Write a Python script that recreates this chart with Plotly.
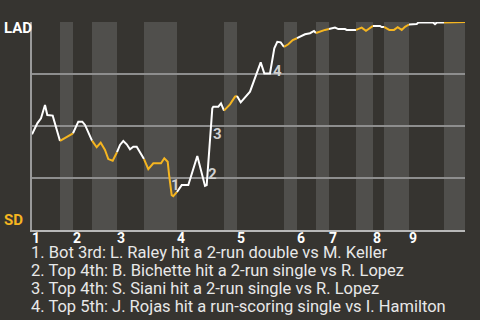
import plotly.graph_objects as go

# Half-inning start positions along the game-progress axis (top 1st ... bottom 9th)
half_starts = [0, 28, 41, 60, 85, 112, 145, 192, 205, 252, 265, 284, 297, 324, 341, 352, 377, 412]
game_end = 433
innings = ["1", "2", "3", "4", "5", "6", "7", "8", "9"]

# Win probability for LAD (%) along game progress
progress = [0, 5.3, 9, 13, 15.3, 20.7, 28, 39.7, 41, 43.7, 46.3, 50.3, 53, 60, 64.7, 68.7, 73,
            76.3, 80.7, 85, 88, 91.3, 94.7, 98, 101.3, 104.7, 109.7, 112, 116.3, 121.3, 129,
            132.3, 135.7, 137.3, 139.7, 141.3, 145, 149.7, 156.3, 165.3, 173, 174.7, 180.3,
            181.3, 186.3, 189, 192, 198, 203, 205, 208.7, 218, 224, 228.7, 232.3, 238, 242.3,
            245.3, 248.7, 252, 256.3, 260.7, 265, 273, 278, 282, 284, 289.7, 293, 297, 299.7,
            303, 306.3, 313, 314.7, 324, 329.7, 334, 338, 341, 348, 349.7, 352, 357.3, 362,
            365.7, 369.7, 373, 377, 384.7, 386.3, 401.3, 403, 404.7, 412, 428, 429.7, 433]
lad_wp = [46.0, 51.3, 53.7, 60.1, 55.3, 55.0, 42.8, 46.2, 46.5, 49.7, 52.1, 52.1, 50.5, 43.0,
          39.8, 42.0, 38.5, 34.1, 33.3, 37.4, 40.9, 42.8, 41.2, 38.8, 40.0, 40.0, 36.1, 34.1,
          29.3, 32.1, 32.1, 34.5, 32.8, 25.6, 16.8, 16.3, 18.3, 21.6, 21.6, 35.6, 21.2, 21.6,
          58.5, 59.3, 59.3, 60.9, 57.4, 60.4, 64.1, 64.4, 61.4, 66.5, 74.5, 80.6, 75.3, 75.3,
          87.4, 90.5, 90.2, 88.0, 89.3, 91.3, 92.2, 94.1, 94.6, 95.7, 94.7, 95.8, 96.2, 96.6,
          97.0, 97.3, 96.6, 96.6, 96.2, 96.2, 97.3, 95.8, 97.3, 98.1, 98.1, 97.6, 97.6, 96.2,
          96.2, 97.5, 96.2, 97.7, 98.8, 99.0, 99.7, 99.7, 99.0, 99.7, 99.7, 99.9, 100, 100]

# Key events
event_labels = ["1", "2", "3", "4"]
event_texts = [
    "1. Bot 3rd: L. Raley hit a 2-run double vs M. Keller",
    "2. Top 4th: B. Bichette hit a 2-run single vs R. Lopez",
    "3. Top 4th: S. Siani hit a 2-run single vs R. Lopez",
    "4. Top 5th: J. Rojas hit a run-scoring single vs I. Hamilton",
]
event_x = [143.7, 180.3, 185.3, 245.3]
event_y = [21.6, 26.9, 46.0, 76.6]

BG = "#363430"
BAND = "#504f4c"
LAD_COL = "#ffffff"
SD_COL = "#f5b520"
FONT = "Roboto"

fig = go.Figure()

bounds = half_starts + [game_end]
shapes = []
for i in range(len(half_starts)):
    if i % 2 == 1:
        shapes.append(dict(type="rect", xref="x", yref="paper", x0=bounds[i], x1=bounds[i + 1],
                           y0=0, y1=1, fillcolor=BAND, line=dict(width=0), layer="below"))

for i in range(len(half_starts)):
    s, e = bounds[i], bounds[i + 1]
    xs = [x for x in progress if s <= x <= e]
    ys = [y for x, y in zip(progress, lad_wp) if s <= x <= e]
    fig.add_trace(go.Scatter(x=xs, y=ys, mode="lines",
                             line=dict(color=LAD_COL if i % 2 == 0 else SD_COL, width=2),
                             hoverinfo="skip", showlegend=False))

annotations = []
for lab, ex, ey in zip(event_labels, event_x, event_y):
    annotations.append(dict(x=ex, y=ey, xref="x", yref="y", text="<b>" + lab + "</b>",
                            showarrow=False, font=dict(family=FONT, size=15, color="#d0d0d0")))

for j, lab in enumerate(innings):
    annotations.append(dict(x=half_starts[2 * j] + 4, y=0, xref="x", yref="paper", yanchor="top",
                            yshift=2, text="<b>" + lab + "</b>", showarrow=False,
                            font=dict(family=FONT, size=14, color="#ffffff")))

annotations.append(dict(x=0, y=97, xref="paper", yref="y", xanchor="left", yanchor="middle",
                        xshift=-30, text="<b>LAD</b>", showarrow=False,
                        font=dict(family=FONT, size=15, color="#ffffff")))
annotations.append(dict(x=0, y=5, xref="paper", yref="y", xanchor="left", yanchor="middle",
                        xshift=-30, text="<b>SD</b>", showarrow=False,
                        font=dict(family=FONT, size=15, color=SD_COL)))

for k, t in enumerate(event_texts):
    annotations.append(dict(x=0, y=0, xref="x", yref="paper", xanchor="left", yanchor="middle",
                            yshift=-22 - 18 * k, xshift=-3, text=t, showarrow=False,
                            font=dict(family=FONT, size=16.5, color="#e8e8e8")))

fig.update_layout(
    width=480, height=320,
    margin=dict(l=32, r=15, t=22, b=90),
    paper_bgcolor=BG, plot_bgcolor=BG,
    shapes=shapes, annotations=annotations,
    xaxis=dict(range=[0, game_end], showgrid=False, zeroline=False, showticklabels=False,
               showline=True, linecolor="#b8b8b8", linewidth=2, mirror=False),
    yaxis=dict(range=[0, 100], tickvals=[25, 50, 75, 100], showgrid=True, gridcolor="#8e8e8e",
               gridwidth=1.5, zeroline=False, showticklabels=False, showline=True,
               linecolor="#9a9a9a", linewidth=1.5),
)

fig.write_html("out.html")
